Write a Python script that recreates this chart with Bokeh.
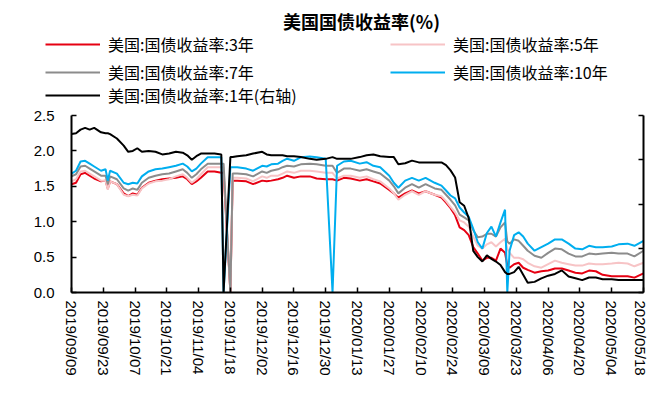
import pandas as pd
from bokeh.plotting import figure
from bokeh.layouts import column
from bokeh.models import (LinearAxis, Range1d, FixedTicker, DatetimeTickFormatter,
                          NumeralTickFormatter, Legend, LegendItem, Label, CustomJSTickFormatter)
from bokeh.embed import file_html
from bokeh.resources import INLINE

title_text = "美国国债收益率(%)"
series_labels = ["美国:国债收益率:3年", "美国:国债收益率:5年", "美国:国债收益率:7年",
                 "美国:国债收益率:10年", "美国:国债收益率:1年(右轴)"]

dates = ["2019-09-09","2019-09-11","2019-09-13","2019-09-15","2019-09-17","2019-09-19","2019-09-22","2019-09-24","2019-09-25","2019-09-26",
         "2019-09-29","2019-10-02","2019-10-04","2019-10-06","2019-10-08","2019-10-10","2019-10-13","2019-10-16","2019-10-19","2019-10-22",
         "2019-10-25","2019-10-28","2019-10-30","2019-11-01","2019-11-03","2019-11-05","2019-11-08","2019-11-11","2019-11-14","2019-11-15",
         "2019-11-18","2019-11-19","2019-11-21","2019-11-25","2019-11-28","2019-12-02","2019-12-04","2019-12-06","2019-12-09","2019-12-11",
         "2019-12-13","2019-12-16","2019-12-19","2019-12-23","2019-12-26","2019-12-30","2020-01-02","2020-01-04","2020-01-07","2020-01-10",
         "2020-01-14","2020-01-17","2020-01-20","2020-01-23","2020-01-27","2020-01-29","2020-01-31","2020-02-03","2020-02-06","2020-02-09",
         "2020-02-12","2020-02-16","2020-02-19","2020-02-21","2020-02-23","2020-02-25","2020-02-27","2020-02-29","2020-03-02","2020-03-04",
         "2020-03-06","2020-03-08","2020-03-10","2020-03-12","2020-03-14","2020-03-16","2020-03-18","2020-03-19","2020-03-20","2020-03-22",
         "2020-03-24","2020-03-26","2020-03-28","2020-03-31","2020-04-03","2020-04-06","2020-04-09","2020-04-12","2020-04-15","2020-04-18",
         "2020-04-21","2020-04-24","2020-04-27","2020-04-30","2020-05-04","2020-05-07","2020-05-11","2020-05-14","2020-05-18"]

ust_3y = [1.53,1.55,1.67,1.69,1.65,1.61,1.57,1.58,1.47,1.57,
          1.53,1.40,1.36,1.40,1.38,1.48,1.55,1.58,1.60,1.61,
          1.62,1.64,1.60,1.53,1.57,1.62,1.71,1.71,1.69,1.69,
          0.0,1.58,1.58,1.57,1.53,1.58,1.57,1.58,1.60,1.62,
          1.65,1.62,1.64,1.64,1.61,1.60,1.60,1.58,1.62,1.61,
          1.58,1.60,1.57,1.54,1.45,1.40,1.34,1.40,1.44,1.40,
          1.43,1.38,1.34,1.27,1.19,1.09,0.92,0.88,0.81,0.64,
          0.55,0.45,0.49,0.49,0.45,0.62,0.56,0.38,0.35,0.40,
          0.42,0.35,0.32,0.28,0.30,0.31,0.34,0.34,0.31,0.28,
          0.27,0.31,0.30,0.25,0.23,0.23,0.23,0.21,0.27]

ust_5y = [1.57,1.60,1.71,1.72,1.68,1.64,1.58,1.58,1.45,1.57,
          1.53,1.38,1.36,1.38,1.37,1.47,1.54,1.57,1.58,1.60,
          1.64,1.67,1.62,1.55,1.60,1.67,1.77,1.77,1.77,1.77,
          0.0,1.62,1.62,1.61,1.57,1.64,1.62,1.65,1.65,1.68,
          1.71,1.69,1.72,1.72,1.71,1.69,1.69,1.61,1.65,1.65,
          1.62,1.64,1.60,1.57,1.47,1.40,1.31,1.38,1.43,1.38,
          1.43,1.38,1.36,1.29,1.21,1.13,1.02,0.99,0.93,0.79,
          0.66,0.62,0.68,0.71,0.65,0.71,0.76,0.62,0.56,0.49,
          0.49,0.47,0.42,0.37,0.35,0.40,0.45,0.42,0.40,0.38,
          0.38,0.41,0.40,0.40,0.41,0.42,0.41,0.37,0.42]

ust_7y = [1.64,1.67,1.78,1.79,1.75,1.71,1.65,1.65,1.53,1.64,
          1.60,1.47,1.44,1.47,1.45,1.55,1.62,1.65,1.67,1.68,
          1.71,1.74,1.69,1.62,1.67,1.74,1.82,1.82,1.82,1.82,
          0.0,1.68,1.68,1.67,1.64,1.71,1.69,1.72,1.74,1.77,
          1.79,1.78,1.81,1.82,1.81,1.79,1.79,1.69,1.75,1.75,
          1.72,1.74,1.71,1.68,1.58,1.50,1.40,1.48,1.53,1.48,
          1.53,1.47,1.45,1.38,1.31,1.23,1.10,1.06,1.02,0.88,
          0.78,0.79,0.83,0.83,0.79,0.92,0.99,0.72,0.69,0.75,
          0.73,0.66,0.59,0.52,0.49,0.56,0.62,0.61,0.55,0.51,
          0.51,0.55,0.54,0.55,0.56,0.55,0.55,0.51,0.59]

ust_10y = [1.68,1.72,1.85,1.86,1.82,1.78,1.72,1.74,1.58,1.72,
           1.68,1.55,1.53,1.55,1.54,1.64,1.71,1.74,1.75,1.77,
           1.79,1.82,1.78,1.71,1.75,1.82,1.91,1.91,1.91,0.0,
           1.77,1.77,1.77,1.75,1.72,1.79,1.78,1.81,1.82,1.86,
           1.89,1.86,1.91,1.92,1.91,1.89,0.0,1.79,1.85,1.86,
           1.82,1.84,1.79,1.77,1.65,1.55,1.48,1.58,1.62,1.58,
           1.62,1.55,1.51,1.44,1.37,1.33,1.20,1.13,1.07,0.90,
           0.71,0.62,0.84,0.93,0.79,0.99,1.17,0.0,0.59,0.81,
           0.85,0.79,0.69,0.59,0.64,0.69,0.75,0.75,0.69,0.62,
           0.61,0.66,0.64,0.64,0.65,0.68,0.69,0.66,0.73]

ust_1y = [1.79,1.80,1.84,1.86,1.84,1.86,1.81,1.80,1.80,1.79,
          1.74,1.66,1.59,1.60,1.63,1.59,1.60,1.59,1.56,1.57,
          1.59,1.58,1.55,1.50,1.54,1.57,1.57,1.57,1.56,0.0,
          1.53,1.53,1.54,1.55,1.57,1.59,1.56,1.55,1.55,1.55,
          1.54,1.54,1.53,1.51,1.50,1.51,1.53,1.51,1.51,1.51,
          1.53,1.55,1.56,1.54,1.53,1.53,1.45,1.46,1.49,1.47,
          1.47,1.47,1.47,1.44,1.38,1.30,1.02,0.98,0.84,0.47,
          0.40,0.35,0.42,0.38,0.35,0.31,0.23,0.21,0.21,0.23,
          0.29,0.20,0.11,0.12,0.16,0.19,0.21,0.25,0.18,0.16,
          0.14,0.17,0.17,0.15,0.15,0.14,0.14,0.14,0.14]

tick_labels = ["2019/09/09","2019/09/23","2019/10/07","2019/10/21","2019/11/04","2019/11/18",
               "2019/12/02","2019/12/16","2019/12/30","2020/01/13","2020/01/27","2020/02/10",
               "2020/02/24","2020/03/09","2020/03/23","2020/04/06","2020/04/20","2020/05/04",
               "2020/05/18"]
left_ticks = [0.0, 0.5, 1.0, 1.5, 2.0, 2.5]
right_ticks = [0.0, 0.5, 1.0, 1.5, 2.0]

colors = ["#E60012", "#F7C4C6", "#8C8C8C", "#00AEEF", "#000000"]
series = [ust_3y, ust_5y, ust_7y, ust_10y, ust_1y]

x = pd.to_datetime(dates)
tick_dt = pd.to_datetime(tick_labels, format="%Y/%m/%d")
tick_ms = [float((t - pd.Timestamp("1970-01-01")) // pd.Timedelta(milliseconds=1)) for t in tick_dt]

W = 648
TOP_H = 106
num_font = "Liberation Sans"
cjk_font = "Noto Sans CJK SC"

# ---- top panel: title + legend ----
top = figure(width=W, height=TOP_H, x_axis_type="datetime", output_backend="svg",
             toolbar_location=None, x_axis_location=None, y_axis_location=None,
             x_range=Range1d(x[0], x[-1]), y_range=Range1d(10, 11),
             min_border_left=0, min_border_right=0, min_border_top=0, min_border_bottom=0)
top.frame_align = False
top.outline_line_color = None
top.xgrid.visible = False
top.ygrid.visible = False

legend_renderers = []
for i, s in enumerate(series):
    legend_renderers.append(top.line(x, s, line_color=colors[i], line_width=2))

def make_legend(idx, loc):
    its = [LegendItem(label=series_labels[i], renderers=[legend_renderers[i]]) for i in idx]
    return Legend(items=its, location=loc, orientation="vertical",
                  glyph_width=55, glyph_height=24, label_standoff=8,
                  spacing=4, padding=0, margin=0, border_line_color=None,
                  background_fill_alpha=0, label_text_font=cjk_font,
                  label_text_font_size="16px", label_text_color="black",
                  label_text_baseline="middle")

top.add_layout(make_legend([0, 2], (45, 22)))
top.add_layout(make_legend([1, 3], (390, 22)))
top.add_layout(make_legend([4], (45, -1)))

title = Label(x=361, y=TOP_H - 20, x_units="screen", y_units="screen", text=title_text,
              text_align="center", text_baseline="middle", text_font=cjk_font,
              text_font_size="18px", text_font_style="bold", text_color="black")
top.add_layout(title)

# ---- main chart ----
p = figure(width=W, height=400 - TOP_H, x_axis_type="datetime", output_backend="svg",
           toolbar_location=None, x_range=Range1d(x[0], x[-1]),
           y_range=Range1d(0, 2.5), min_border_left=71, min_border_right=5,
           min_border_top=115 - TOP_H, min_border_bottom=108)
p.frame_align = False
p.outline_line_color = None
p.xgrid.visible = False
p.ygrid.visible = False

p.extra_y_ranges = {"right": Range1d(0, 2.0)}

xa = p.xaxis[0]
xa.ticker = FixedTicker(ticks=tick_ms)
fmt = "%Y/%m/%d"
xa.formatter = DatetimeTickFormatter(milliseconds=fmt, seconds=fmt, minsec=fmt, minutes=fmt,
                                     hourmin=fmt, hours=fmt, days=fmt, months=fmt, years=fmt)
xa.major_label_orientation = "vertical"
xa.major_label_text_font = num_font
xa.major_label_text_font_size = "15px"
xa.major_label_text_color = "black"
xa.major_label_standoff = 8

ya = p.yaxis[0]
ya.ticker = FixedTicker(ticks=left_ticks)
ya.formatter = NumeralTickFormatter(format="0.0")
ya.major_label_text_font = num_font
ya.major_label_text_font_size = "15px"
ya.major_label_text_color = "black"
ya.major_label_standoff = 17

ra = LinearAxis(y_range_name="right", ticker=FixedTicker(ticks=right_ticks),
                formatter=CustomJSTickFormatter(code="return ''"))
ra.major_label_standoff = 0
p.add_layout(ra, "right")

for ax in (xa, ya, ra):
    ax.axis_line_width = 2
    ax.axis_line_color = "black"
    ax.major_tick_line_color = "black"
    ax.major_tick_line_width = 1.5
    ax.major_tick_in = 5
    ax.major_tick_out = 0
    ax.minor_tick_line_color = None

for i, s in enumerate(series):
    if i == 4:
        p.line(x, s, line_color=colors[i], line_width=2, y_range_name="right")
    else:
        p.line(x, s, line_color=colors[i], line_width=2)

layout = column(top, p, spacing=0)
open("out.html", "w").write(file_html(layout, INLINE))
